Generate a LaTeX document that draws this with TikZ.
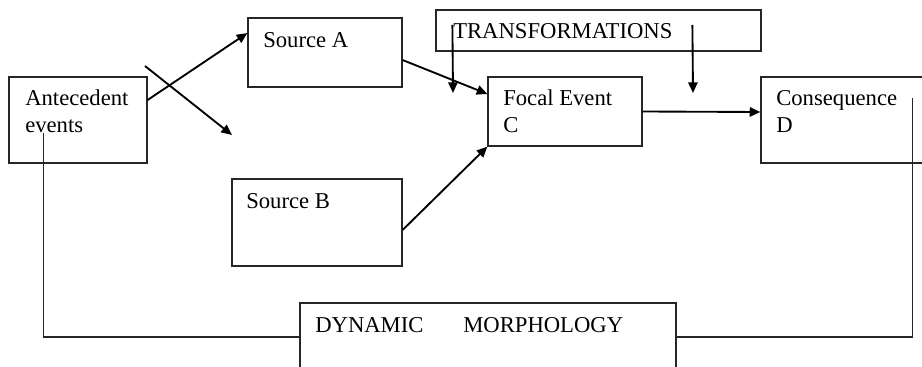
\documentclass[tikz,border=0pt]{standalone}
\usepackage{fontspec}
\setmainfont{Liberation Serif}
\usetikzlibrary{arrows.meta,calc}
\begin{document}
\begin{tikzpicture}[x=0.75pt,y=-0.75pt,
  box/.style={draw=black!85,line width=0.9pt,rectangle,inner sep=0pt},
  txt/.style={anchor=base west,inner sep=0pt,align=left,
    font=\fontsize{17}{20.25}\selectfont},
  arr/.style={line width=1.4pt,-{Triangle[length=8pt,width=7pt]}},
  link/.style={draw=black!85,line width=0.9pt}]
\useasboundingbox (0,0) rectangle (922,367);

% boxes
\node[box,minimum width=138*0.75pt,minimum height=86*0.75pt] (ante) at (78,120) {};
\node[box,minimum width=154*0.75pt,minimum height=69*0.75pt] (srcA) at (325,52.5) {};
\node[box,minimum width=170*0.75pt,minimum height=87*0.75pt] (srcB) at (317,222.5) {};
\node[box,minimum width=154*0.75pt,minimum height=69*0.75pt] (focal) at (565,111.5) {};
\node[box,minimum width=325*0.75pt,minimum height=41*0.75pt] (trans) at (598.5,30.5) {};
\node[box,minimum width=169*0.75pt,minimum height=86*0.75pt] (conseq) at (845.5,120) {};
\node[box,minimum width=376*0.75pt,minimum height=80*0.75pt] (dyn) at (488,343) {};

% labels (two-line labels are placed by their last baseline)
\node[txt] (anteT) at (25,133) {Antecedent\\events};
\node[txt] (srcAT) at (263,48) {Source A};
\node[txt] (srcBT) at (246,209) {Source B};
\node[txt] (focalT) at (503,133) {Focal Event\\C};
\node[txt] (transT) at (453,39) {TRANSFORMATIONS};
\node[txt] (conseqT) at (776,133) {Consequence\\D};
\node[txt] (dynT) at (315,333) {DYNAMIC};
\node[txt] (morphT) at (463,333) {MORPHOLOGY};

% free arrow ends
\coordinate (crossS) at (145,66);
\coordinate (crossE) at (232,135);
\coordinate (tA) at (453,93);
\coordinate (tB) at (693,93);

% arrows
\draw[arr] ($(ante.east)+(0,-20)$) -- ($(srcA.west)+(0,-19.5)$);
\draw[arr] (crossS) -- (crossE);
\draw[arr] ($(srcA.east)+(0,7.5)$) -- ($(focal.west)+(0,-17.5)$);
\draw[arr] ($(srcB.east)+(0,7.5)$) -- (focal.south west);
\draw[arr] ($(trans.west)+(17,-5.5)$) -- (tA);
\draw[arr] ($(trans.west)+(257,-5.5)$) -- (tB);
\draw[arr] (focal.east) -- ($(conseq.west)+(0,-8)$);

% feedback lines into the morphology box
\draw[link] ($(ante.south west)+(35,-31)$) |- ($(dyn.west)+(0,-6)$);
\draw[link] ($(conseq.north west)+(152,22)$) |- ($(dyn.east)+(0,-6)$);
\end{tikzpicture}
\end{document}
